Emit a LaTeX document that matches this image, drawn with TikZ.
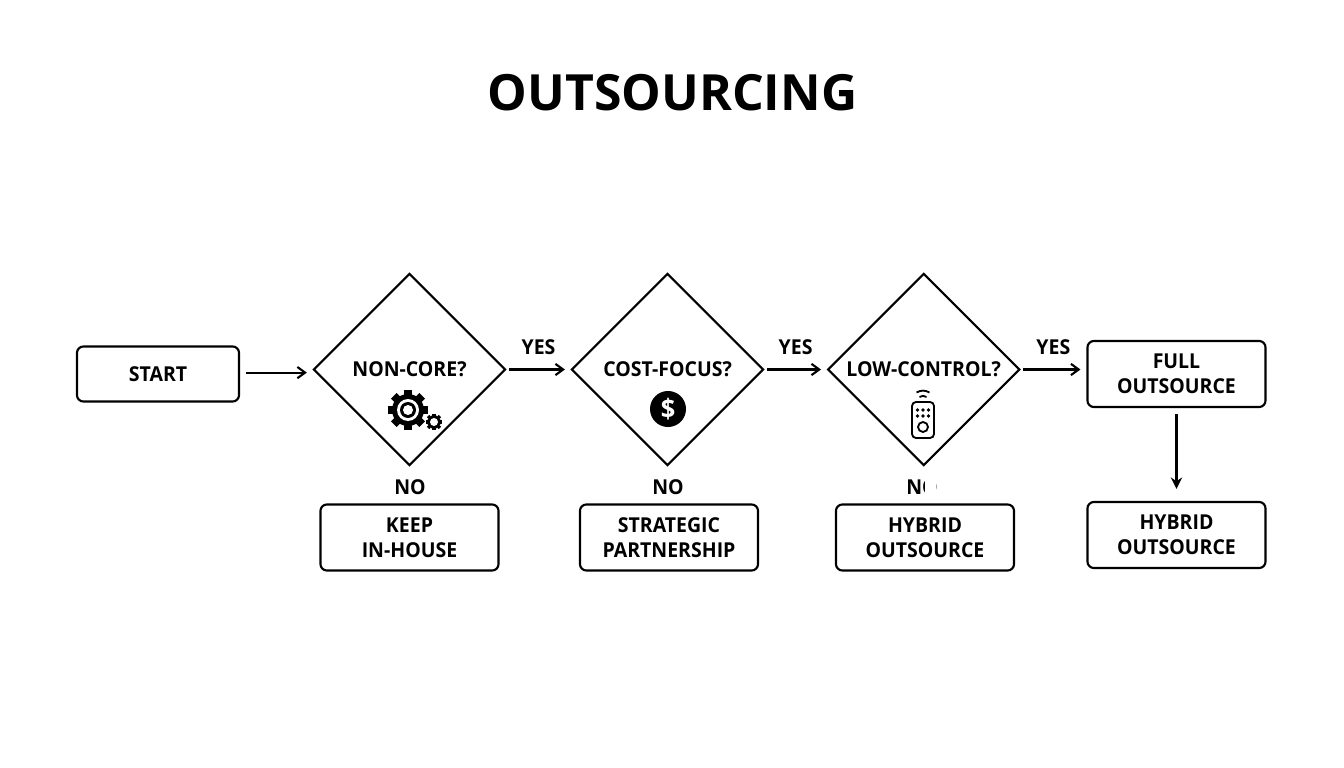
\documentclass[tikz,border=0pt]{standalone}
\usepackage{fontspec}
\setmainfont{Open Sans}
\newfontfamily\labelfont[FakeStretch=0.95]{Open Sans Bold}
\usepackage{tikz}
\usetikzlibrary{arrows.meta,calc,positioning,shapes.geometric}
\tikzset{%
	block/.style    = {draw, rectangle, rounded corners=0.16cm, line width=1.5pt, outer sep=0pt, align=center, minimum width=4.45cm, minimum height=1.65cm, font=\labelfont\fontsize{14.6}{17.8}\selectfont},
	startblock/.style = {block, minimum width=4.05cm, minimum height=1.375cm},
	decision/.style = {draw, diamond, aspect=1, line width=1.5pt, outer sep=0pt, inner sep=0pt, minimum width=4.78cm, minimum height=4.78cm, font=\labelfont\fontsize{14.6}{17.8}\selectfont}, % Question
	answer/.style   = {font=\labelfont\fontsize{14.6}{17.8}\selectfont, inner sep=0pt}, % Yes or no
	link/.style     = {-{Straight Barb[length=5.5pt,width=8pt]}, line width=1.5pt, shorten >=0.175cm, shorten <=0.1cm},
	gear/.pic = {
		\foreach \a in {0,45,...,315}
			\fill[rotate=\a] (-4,-15) rectangle (4,-20);
		\fill (0,0) circle (16);
	},
}

\begin{document}
\begin{tikzpicture}[x=0.025cm, y=-0.025cm, node distance = 6.45cm]
		\useasboundingbox (0,0) rectangle (1344,768);
		\node[inner sep=0pt, font=\bfseries\fontsize{35.5}{36}\selectfont] (title) at (672.5,93) {OUTSOURCING};
		\node[startblock] (start) at (158,374) {START};
		\node[decision] (core) at (409.5,369.5) {NON-CORE?};
		\node[decision, right of=core] (cost) {COST-FOCUS?};
		\node[decision, right of=cost, node distance = 6.4cm] (control) {LOW-CONTROL?};
		\node[block, at={(1176.5,374)}] (full) {FULL\\OUTSOURCE};
		\node[block] (keep) at (409.5,537.5) {KEEP\\IN-HOUSE};
		\node[block] (partner) at (669,537.5) {STRATEGIC\\PARTNERSHIP};
		\node[block] (hybrid) at (925,537.5) {HYBRID\\OUTSOURCE};
		\node[block] (hybridfull) at (1176.5,535) {HYBRID\\OUTSOURCE};
		\node[answer] (nocore) at (410,487) {NO};
		\node[answer] (nocost) at (668,487) {NO};
		\node[answer] (nocontrol) at (922,487) {NO};
		\fill[white] (925,476) rectangle (936,498);
		\draw[link, shorten <=0.175cm] ([yshift=1pt]start.east) -- ([yshift=1pt]start.east -| core.west);
		\draw[link] (core.east) -- node[answer, above=0.35cm] (yescore) {YES} (cost.west);
		\draw[link] (cost.east) -- node[answer, above=0.35cm] (yescost) {YES} (control.west);
		\draw[link] (control.east) -- node[answer, above=0.35cm] (yescontrol) {YES} (control.east -| full.west);
		\draw[link, -{Stealth[length=8pt,width=8pt]}, shorten >=0.33cm, shorten <=0.175cm] (full.south) -- (hybridfull.north);
		% gears
		\pic at (408,410) {gear};
		\fill[white] (408,410) circle (11);
		\fill (408,410) circle (8);
		\fill[white] (408,410) circle (5);
		\pic[scale=0.42] at (434,422) {gear};
		\fill[white] (434,422) circle (4);
		% coin
		\node[circle, fill=black, text=white, minimum size=0.9cm, inner sep=0pt, font=\labelfont\fontsize{19}{19}\selectfont] (coin) at (668,409) {\$};
		% remote
		\draw[line width=1.3pt, rounded corners=0.1cm] (912,402) rectangle (934,438);
		\draw[line width=1.3pt] (923,427) circle (5);
		\foreach \x in {917.5,923,928.5}
			\foreach \y in {410,416}
				\fill (\x,\y) circle (1.8);
		\draw[line width=1.3pt] (919.5,397) .. controls (922,395.5) and (924,395.5) .. (926.5,397);
		\draw[line width=1.3pt] (916.5,392.5) .. controls (921,390) and (925,390) .. (929.5,392.5);
		\end{tikzpicture}
\end{document}
